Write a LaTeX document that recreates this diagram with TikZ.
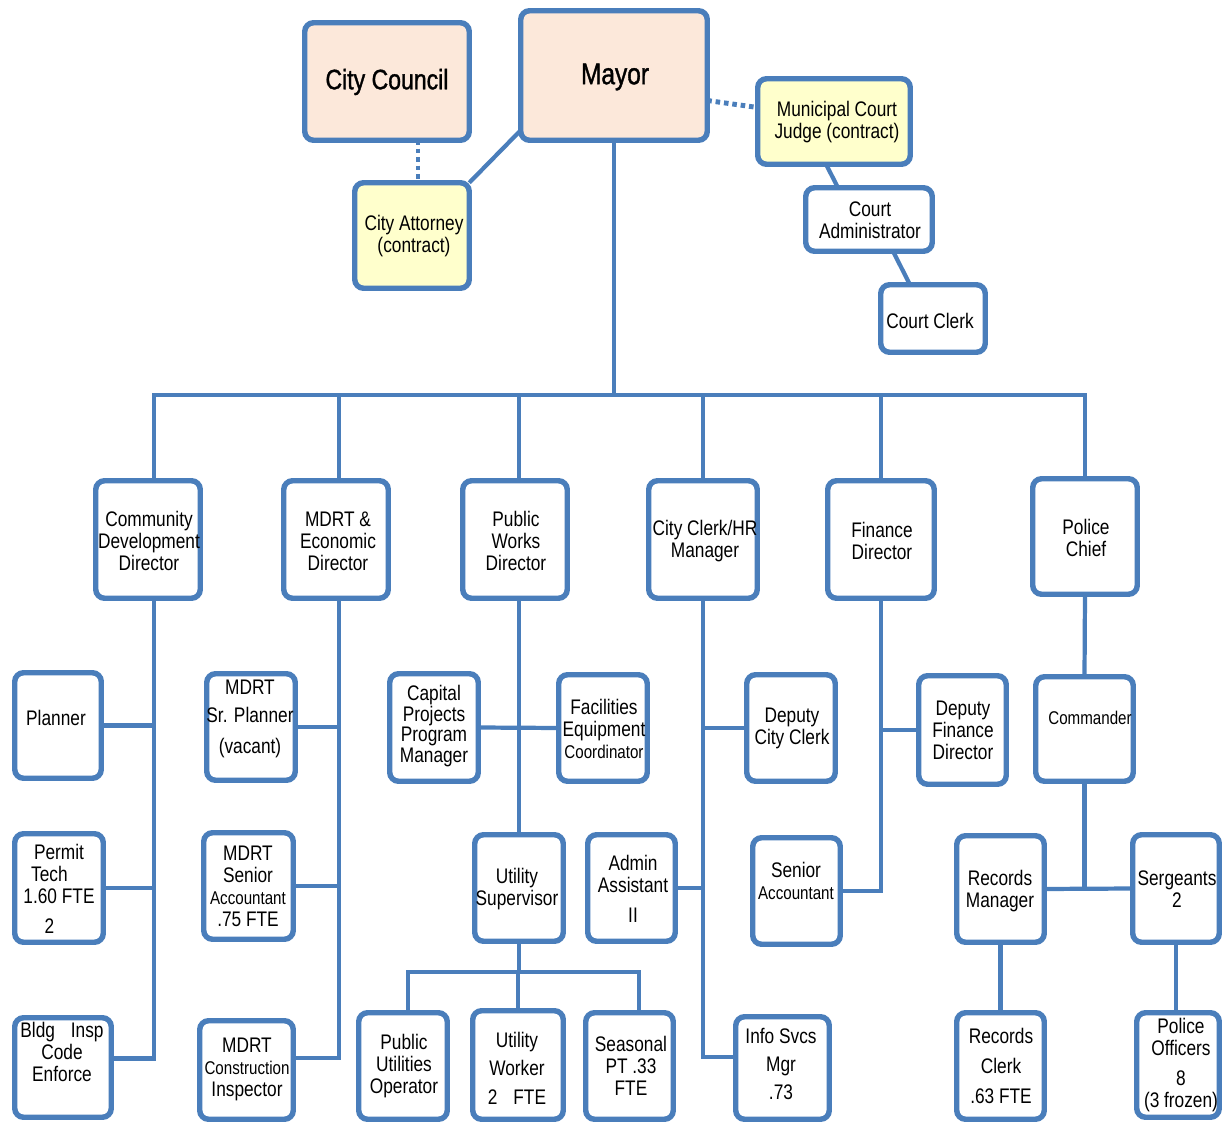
\documentclass[tikz,border=0pt]{standalone}
\usepackage{fontspec}
\setmainfont{Liberation Sans}[FakeStretch=0.82]
\definecolor{ob}{RGB}{74,126,187}
\definecolor{peach}{RGB}{252,232,218}
\definecolor{lyel}{RGB}{255,255,204}
\tikzset{
  obox/.style={draw=ob, line width=3.1pt, rounded corners=5pt, fill=white, inner sep=0pt, outer sep=0pt},
  peachbox/.style={fill=peach},
  yelbox/.style={fill=lyel},
  txt/.style={align=center, font=\fontsize{12}{12.5}\selectfont, inner sep=0pt, text=black},
  conn/.style={draw=ob, line width=2.4pt},
  dotconn/.style={draw=ob, line width=2.8pt, dash pattern=on 2.6pt off 2.2pt}
}
\newcommand\sm[1]{{\fontsize{10.5}{12.5}\selectfont #1}}
\newcommand\orgbox[6][]{\node[obox,#1,minimum width={(#5-#3-5.5)*0.02cm},minimum height={(#6-#4-5.5)*0.02cm}] (#2) at ({(#3+#5)/2},{(#4+#6)/2}) {};}
\begin{document}
\begin{tikzpicture}[x=0.02cm,y=-0.02cm]
\useasboundingbox (0,0) rectangle (1225,1125);
% spine coordinates
\coordinate (busy) at (0,395);
\coordinate (hbus) at (0,972);
\coordinate (attx) at (418,0);
\coordinate (cdx) at (154,0);
\coordinate (mdx) at (339,0);
\coordinate (pwx) at (519,0);
\coordinate (ccx) at (703,0);
\coordinate (fdx) at (881,0);
% boxes
\orgbox[peachbox]{council}{302}{20}{472}{143}
\orgbox[peachbox]{mayor}{518}{8}{710}{143}
\orgbox[yelbox]{att}{352}{180}{472}{291}
\orgbox[yelbox]{judge}{755}{76}{913}{167}
\orgbox{cadm}{803}{185}{935}{254}
\orgbox{cclerk}{878}{282}{988}{355}
\orgbox{cdd}{93}{478}{203}{601}
\orgbox{mdrt}{281}{478}{391}{601}
\orgbox{pw}{460}{478}{570}{601}
\orgbox{cc}{646}{478}{760}{601}
\orgbox{fd}{825}{478}{937}{601}
\orgbox{pc}{1030}{476}{1140}{597}
\orgbox{planner}{12}{670}{104}{781}
\orgbox{permit}{12}{831}{106}{945}
\orgbox{bldg}{12}{1015}{114}{1120}
\orgbox{msp}{204}{671}{298}{783}
\orgbox{msa}{201}{830}{296}{942}
\orgbox{mcon}{197}{1018}{296}{1122}
\orgbox{cap}{387}{671}{481}{784}
\orgbox{fac}{556}{672}{650}{784}
\orgbox{usup}{472}{832}{566}{944}
\orgbox{puo}{356}{1010}{450}{1122}
\orgbox{uw}{470}{1008}{566}{1122}
\orgbox{sea}{583}{1010}{676}{1122}
\orgbox{dcc}{744}{672}{838}{784}
\orgbox{admin}{585}{832}{678}{944}
\orgbox{info}{733}{1014}{832}{1122}
\orgbox{dfd}{916}{673}{1009}{787}
\orgbox{sacc}{750}{835}{843}{947}
\orgbox{cmd}{1033}{674}{1136}{784}
\orgbox{rmgr}{954}{833}{1047}{945}
\orgbox{serg}{1130}{832}{1222}{945}
\orgbox{rclerk}{954}{1010}{1047}{1122}
\orgbox{off}{1134}{1010}{1222}{1120}
% texts
\node[txt,font=\fontsize{16}{18}\selectfont\addfontfeature{FakeBold=1.2}] (t-council) at (387,82) {City Council};
\node[txt,font=\fontsize{17}{19}\selectfont\addfontfeature{FakeBold=1.2}] (t-mayor) at (615,77) {Mayor};
\node[txt] (t-att) at (414,236) {City Attorney\\(contract)};
\node[txt] (t-judge) at (837,122) {Municipal Court\\Judge (contract)};
\node[txt] (t-cadm) at (870,220) {Court\\Administrator};
\node[txt] (t-cclerk) at (930,321) {Court Clerk};
\node[txt] (t-cdd) at (149,541) {Community\\Development\\Director};
\node[txt] (t-mdrt) at (338,541) {MDRT \&\\Economic\\Director};
\node[txt] (t-pw) at (516,541) {Public\\Works\\Director};
\node[txt] (t-cc) at (705,541) {City Clerk/HR\\Manager};
\node[txt] (t-fd) at (882,541) {Finance\\Director};
\node[txt] (t-pc) at (1086,538) {Police\\Chief};
\node[txt] (t-planner) at (56,718) {Planner};
\node[txt] (t-msp) at (250,719) {MDRT\\[3.4pt]Sr. Planner\\[5pt](vacant)};
\node[txt,font=\fontsize{12}{11.6}\selectfont] (t-cap) at (434,726) {Capital\\Projects\\Program\\Manager};
\node[txt] (t-fac) at (604,729) {Facilities\\Equipment\\\sm{Coordinator}};
\node[txt] (t-dcc) at (792,728) {Deputy\\City Clerk};
\node[txt] (t-dfd) at (963,730) {Deputy\\Finance\\Director};
\node[txt,font=\fontsize{10.5}{12.5}\selectfont] (t-cmd) at (1090,718) {Commander};
\node[txt] (t-permit) at (59,889) {Permit\\Tech\hphantom{00}\\1.60 FTE\\[4.5pt]2\hphantom{00}};
\node[txt] (t-msa) at (248,886) {MDRT\\Senior\\\sm{Accountant}\\.75 FTE};
\node[txt] (t-usup) at (517,889) {Utility\\Supervisor};
\node[txt] (t-admin) at (633,889) {Admin\\Assistant\\[4.5pt]II};
\node[txt] (t-sacc) at (796,881) {Senior\\\sm{Accountant}};
\node[txt] (t-rmgr) at (1000,891) {Records\\Manager};
\node[txt] (t-serg) at (1177,889) {Sergeants\\2};
\node[txt] (t-bldg) at (62,1052) {Bldg\hspace{9pt}Insp\\Code\\Enforce};
\node[txt] (t-mcon) at (247,1069) {MDRT\\\sm{Construction}\\Inspector};
\node[txt] (t-puo) at (404,1066) {Public\\Utilities\\Operator};
\node[txt] (t-uw) at (517,1068) {Utility\\[3.5pt]Worker\\[4pt]2\hspace{9pt}FTE};
\node[txt] (t-sea) at (631,1066) {Seasonal\\PT .33\\FTE};
\node[txt] (t-info) at (781,1064) {Info Svcs\\[3.5pt]Mgr\\[3pt].73};
\node[txt] (t-rclerk) at (1001,1066) {Records\\[4.5pt]Clerk\\[5pt].63 FTE};
\node[txt] (t-off) at (1181,1065) {Police\\Officers\\[4.5pt]8\\(3 frozen)};
% top connectors
\draw[dotconn] (council.south -| attx) -- (att.north -| attx);
\draw[conn] ([yshift=0.2cm]mayor.south west) -- (att.north east);
\draw[dotconn] ([yshift=-0.5cm]mayor.east) -- ([yshift=0.28cm]judge.west);
\draw[conn] ([xshift=-0.16cm]judge.south) -- ([xshift=-0.62cm]cadm.north);
\draw[conn] ([xshift=0.48cm]cadm.south) -- ([xshift=-0.46cm]cclerk.north);
% mayor to bus
\draw[conn] (mayor.south) -- (mayor.south |- busy);
\draw[conn] (cdd.north -| cdx) |- (pc.north |- busy) -- (pc.north);
\draw[conn] (mdrt.north -| mdx) -- (mdx |- busy);
\draw[conn] (pw.north -| pwx) -- (pwx |- busy);
\draw[conn] (cc.north -| ccx) -- (ccx |- busy);
\draw[conn] (fd.north -| fdx) -- (fdx |- busy);
% community development
\draw[conn] (cdd.south -| cdx) |- ([yshift=0.18cm]bldg.east);
\draw[conn] (planner.east) -- (planner.east -| cdx);
\draw[conn] (permit.east) -- (permit.east -| cdx);
% MDRT
\draw[conn] (mdrt.south -| mdx) |- ([yshift=0.24cm]mcon.east);
\draw[conn] (msp.east) -- (msp.east -| mdx);
\draw[conn] (msa.east) -- (msa.east -| mdx);
% public works
\draw[conn] (pw.south -| pwx) -- (usup.north -| pwx);
\draw[conn] (cap.east) -- (fac.west);
\coordinate (puodrop) at ([xshift=0.1cm]puo.north);
\coordinate (seadrop) at ([xshift=0.19cm]sea.north);
\draw[conn] (usup.south) -- (usup.south |- hbus);
\draw[conn] (puodrop) |- (seadrop |- hbus) -- (seadrop);
\draw[conn] (uw.north) -- (uw.north |- hbus);
% city clerk
\draw[conn] (cc.south -| ccx) |- ([yshift=0.22cm]info.west);
\draw[conn] (dcc.west) -- (dcc.west -| ccx);
\draw[conn] (admin.east) -- (admin.east -| ccx);
% finance
\draw[conn] (fd.south -| fdx) |- (sacc.east);
\draw[conn] (dfd.west) -- (dfd.west -| fdx);
% police
\draw[conn] (pc.south) -- (cmd.north);
\draw[conn] (cmd.south) -- (cmd.south |- rmgr.east);
\draw[conn] (rmgr.east) -- (serg.west);
\draw[conn] (rmgr.south) -- (rclerk.north);
\draw[conn] (serg.south) -- (serg.south |- off.north);
\end{tikzpicture}
\end{document}
